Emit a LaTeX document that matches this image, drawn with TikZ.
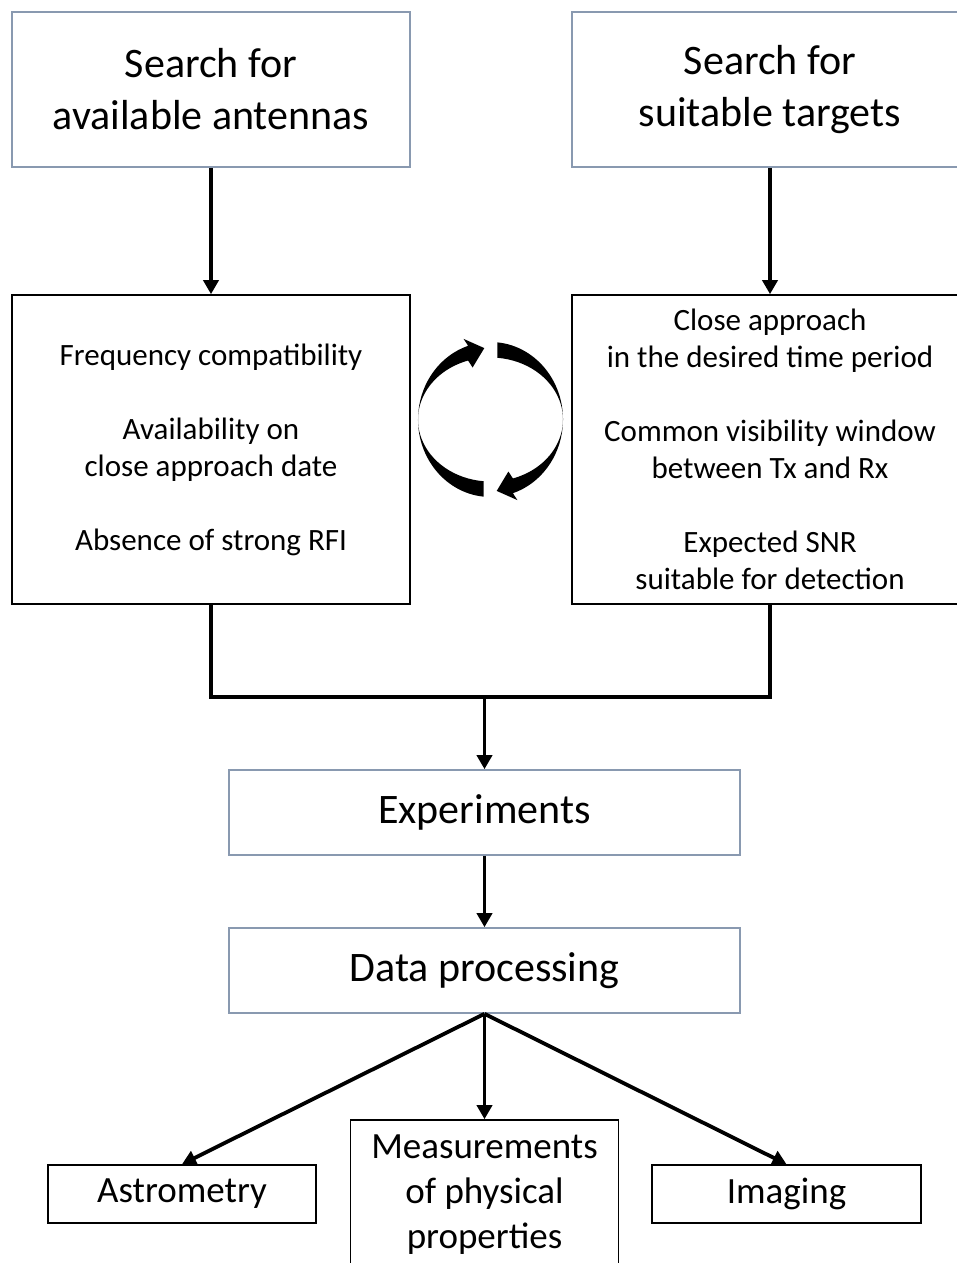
\documentclass[tikz,border=0pt]{standalone}
\usepackage{fontspec}
\setmainfont{Carlito}
\usetikzlibrary{arrows.meta}
\definecolor{slateline}{RGB}{137,153,176}
\tikzset{
  softbox/.style={draw=slateline,line width=1.6pt,inner sep=0pt,align=center},
  darkbox/.style={draw=black,line width=1.6pt,inner sep=0pt,align=center},
  bigtext/.style={font=\fontsize{42}{52}\selectfont},
  midtext/.style={font=\fontsize{31}{37}\selectfont},
  smalltext/.style={font=\fontsize{37}{45}\selectfont},
  flow/.style={line width=3.8pt,-{Triangle[length=14pt,width=15pt]}},
  joinline/.style={line width=3.8pt},
  halfcycle/.pic={
    \fill[black] (264.5:72.5 and 77.5)
      arc[start angle=264.5,end angle=108,x radius=72.5,y radius=77.5]
      -- (-26.9,80.6) -- (-6.2,71.4) -- (-17.9,52.0)
      -- (108:72.5 and 62)
      arc[start angle=108,end angle=264.5,x radius=72.5,y radius=62]
      -- cycle;
  }
}
\begin{document}
\begin{tikzpicture}[x=1pt,y=-1pt]
\useasboundingbox (0,0) rectangle (957,1263);
\clip (0,0) rectangle (957,1263);

% top row: the two searches
\node[softbox,bigtext,minimum width=398pt,minimum height=155pt] (ant) at (211,89.5)
  {Search for\\available antennas};
\node[softbox,bigtext,minimum width=396pt,minimum height=155pt] (tgt) at (770,89.5)
  {Search for\\suitable targets};

% criteria boxes
\node[darkbox,midtext,minimum width=398pt,minimum height=309pt] (antreq) at (211,449.5)
  {Frequency compatibility\\[37pt]Availability on\\close approach date\\[37pt]Absence of strong RFI};
\node[darkbox,midtext,minimum width=396pt,minimum height=309pt] (tgtreq) at (770,449.5)
  {Close approach\\in the desired time period\\[37pt]Common visibility window\\between Tx and Rx\\[37pt]Expected SNR\\suitable for detection};

% iteration symbol between the criteria boxes
\begin{scope}[shift={(490.5,419.5)},y=1pt]
  \pic at (0,0) {halfcycle};
  \pic[rotate=180] at (0,0) {halfcycle};
\end{scope}

% main chain
\node[softbox,bigtext,minimum width=511pt,minimum height=85pt] (exp) at (484.5,812.5) {Experiments};
\node[softbox,bigtext,minimum width=511pt,minimum height=85pt] (proc) at (484.5,970.5) {Data processing};

% outputs
\node[darkbox,smalltext,minimum width=268pt,minimum height=58pt] (astro) at (182,1194) {Astrometry};
\node[darkbox,smalltext,minimum width=268pt,minimum height=150pt] (meas) at (484.5,1195) {Measurements\\of physical\\properties};
\node[darkbox,smalltext,minimum width=269pt,minimum height=58pt] (img) at (786.5,1194) {Imaging};

% connectors
\coordinate (merge) at (484.5,697);
\draw[flow] (ant.south) -- (antreq.north);
\draw[flow] (tgt.south) -- (tgtreq.north);
\draw[joinline] (antreq.south) |- (merge) -| (tgtreq.south);
\draw[flow] (merge) -- (exp.north);
\draw[flow] (exp.south) -- (proc.north);
\draw[flow] (proc.south) -- (astro.north);
\draw[flow] (proc.south) -- (meas.north);
\draw[flow] (proc.south) -- (img.north);
\end{tikzpicture}
\end{document}
